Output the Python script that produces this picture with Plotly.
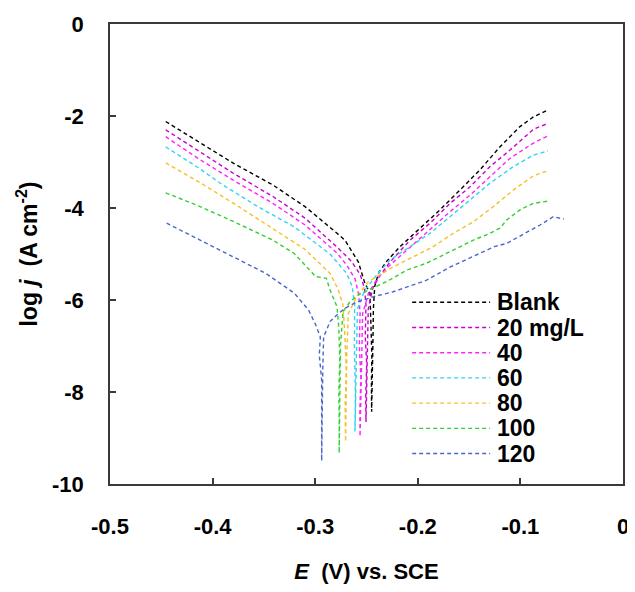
import plotly.graph_objects as go

# ---------------- data ----------------
series_names = ["Blank", "20 mg/L", "40", "60", "80", "100", "120"]
series_colors = ["#000000", "#CC00CC", "#FF22FF", "#33D4EE", "#F5C02A", "#33D033", "#4D66CC"]

e_blank = [-0.4457, -0.4143, -0.3795, -0.3412, -0.3099, -0.2787, -0.2710, -0.2580, -0.2515, -0.2466,
           -0.2455, -0.2448, -0.2452, -0.2450, -0.2438, -0.2433, -0.2420, -0.2380, -0.2300, -0.2173,
           -0.1979, -0.1784, -0.1589, -0.1394, -0.1199, -0.1004, -0.0874, -0.0732]
j_blank = [-2.12, -2.56, -3.03, -3.50, -3.97, -4.55, -4.70, -5.17, -5.64, -5.85,
           -6.50, -7.20, -7.80, -8.43, -7.00, -6.20, -5.70, -5.40, -5.15, -4.84,
           -4.44, -4.04, -3.61, -3.17, -2.67, -2.23, -2.02, -1.87]

e_20 = [-0.4457, -0.4143, -0.3795, -0.3412, -0.3099, -0.2787, -0.2650, -0.2560, -0.2520, -0.2505,
        -0.2512, -0.2498, -0.2508, -0.2505, -0.2490, -0.2483, -0.2440, -0.2380, -0.2280, -0.2076,
        -0.1881, -0.1686, -0.1491, -0.1296, -0.1101, -0.0874, -0.0732]
j_20 = [-2.30, -2.75, -3.25, -3.75, -4.22, -4.85, -5.15, -5.45, -5.75, -6.10,
        -6.80, -7.40, -8.10, -8.65, -7.30, -6.20, -5.75, -5.50, -5.20, -4.70,
        -4.33, -3.90, -3.54, -3.10, -2.74, -2.29, -2.16]

e_40 = [-0.4457, -0.4143, -0.3795, -0.3412, -0.3099, -0.2787, -0.2690, -0.2610, -0.2575, -0.2563,
        -0.2570, -0.2555, -0.2565, -0.2563, -0.2548, -0.2538, -0.2480, -0.2400, -0.2300, -0.2100,
        -0.1881, -0.1686, -0.1491, -0.1296, -0.1101, -0.0874, -0.0732]
j_40 = [-2.45, -2.92, -3.40, -3.90, -4.37, -4.98, -5.25, -5.55, -5.90, -6.30,
        -7.00, -7.70, -8.40, -8.97, -7.40, -6.30, -5.85, -5.55, -5.30, -4.90,
        -4.48, -4.08, -3.72, -3.32, -2.92, -2.59, -2.43]

e_60 = [-0.4457, -0.4143, -0.3900, -0.3552, -0.3204, -0.2856, -0.2694, -0.2640, -0.2615, -0.2618,
        -0.2608, -0.2612, -0.2598, -0.2588, -0.2520, -0.2400, -0.2271, -0.2076, -0.1881, -0.1686,
        -0.1491, -0.1296, -0.1069, -0.0874, -0.0732]
j_60 = [-2.67, -3.12, -3.50, -3.98, -4.41, -5.00, -5.42, -5.70, -6.10, -7.00,
        -8.00, -8.86, -7.20, -6.20, -5.80, -5.45, -5.13, -4.84, -4.55, -4.19,
        -3.83, -3.46, -3.10, -2.85, -2.76]

e_80 = [-0.4457, -0.4143, -0.3795, -0.3412, -0.3099, -0.2856, -0.2780, -0.2730, -0.2710, -0.2698,
        -0.2708, -0.2704, -0.2692, -0.2678, -0.2600, -0.2480, -0.2239, -0.2044, -0.1849, -0.1654,
        -0.1459, -0.1264, -0.1069, -0.0874, -0.0732]
j_80 = [-3.02, -3.42, -3.90, -4.45, -4.90, -5.42, -5.75, -6.10, -6.80, -7.50,
        -8.30, -9.08, -7.20, -6.30, -5.95, -5.60, -5.28, -5.06, -4.84, -4.55,
        -4.30, -3.97, -3.61, -3.30, -3.19]

e_100 = [-0.4457, -0.4143, -0.3830, -0.3412, -0.3204, -0.2995, -0.2891, -0.2856, -0.2787, -0.2770,
         -0.2760, -0.2770, -0.2766, -0.2766, -0.2754, -0.2728, -0.2661, -0.2580, -0.2450, -0.2304,
         -0.2109, -0.1914, -0.1686, -0.1459, -0.1296, -0.1199, -0.1134, -0.1004, -0.0874, -0.0732]
j_100 = [-3.67, -3.95, -4.26, -4.70, -4.99, -5.49, -5.53, -5.78, -6.15, -6.60,
         -7.30, -8.00, -8.60, -9.33, -7.00, -6.25, -6.04, -5.89, -5.75, -5.60,
         -5.35, -5.20, -4.95, -4.70, -4.55, -4.44, -4.26, -4.04, -3.90, -3.85]

e_120 = [-0.4448, -0.4253, -0.4058, -0.3863, -0.3668, -0.3482, -0.3204, -0.3064, -0.2995, -0.2950,
         -0.2960, -0.2937, -0.2937, -0.2937, -0.2926, -0.2918, -0.2888, -0.2856, -0.2791, -0.2710,
         -0.2600, -0.2434, -0.2239, -0.2080, -0.1914, -0.1700, -0.1427, -0.1254, -0.1134, -0.0941,
         -0.0809, -0.0680, -0.0576]
j_120 = [-4.33, -4.55, -4.77, -4.99, -5.20, -5.42, -5.85, -6.22, -6.54, -6.80,
         -7.20, -7.74, -8.60, -9.50, -7.50, -6.80, -6.65, -6.47, -6.33, -6.18,
         -6.05, -5.93, -5.82, -5.70, -5.57, -5.30, -5.02, -4.84, -4.77, -4.53,
         -4.37, -4.19, -4.24]

x_tickvals = [-0.5, -0.4, -0.3, -0.2, -0.1, 0]
x_ticktext = ["-0.5", "-0.4", "-0.3", "-0.2", "-0.1", "0"]
y_tickvals = [0, -2, -4, -6, -8, -10]
y_ticktext = ["0", "-2", "-4", "-6", "-8", "-10"]

all_e = [e_blank, e_20, e_40, e_60, e_80, e_100, e_120]
all_j = [j_blank, j_20, j_40, j_60, j_80, j_100, j_120]

# ---------------- figure ----------------
FONT = "Arial, 'Liberation Sans', sans-serif"
AXIS_COLOR = "#3a3a3a"

fig = go.Figure()
for name, color, ev, jv in zip(series_names, series_colors, all_e, all_j):
    fig.add_trace(go.Scatter(
        x=ev, y=jv, mode="lines", name=name, showlegend=False,
        line=dict(color=color, width=1.4, dash="4px,3px"),
    ))

# legend drawn inside the plot (long dashed samples as in the original)
leg_top = 0.395      # paper y of first row
leg_step = 0.0548    # row spacing in paper units
for i, (name, color) in enumerate(zip(series_names, series_colors)):
    yy = leg_top - i * leg_step
    fig.add_shape(type="line", xref="paper", yref="paper",
                  x0=0.589, x1=0.741, y0=yy, y1=yy,
                  line=dict(color=color, width=1.4, dash="4px,3px"))
    fig.add_annotation(xref="paper", yref="paper", x=0.75, y=yy,
                       text=f"<b>{name}</b>", showarrow=False,
                       xanchor="left", yanchor="middle",
                       font=dict(family=FONT, size=23, color="black"))

fig.update_xaxes(
    range=[-0.5, 0], tickvals=x_tickvals, ticktext=x_ticktext,
    showline=True, mirror=True, linecolor=AXIS_COLOR, linewidth=1.5,
    ticks="inside", ticklen=6, tickwidth=1.5, tickcolor=AXIS_COLOR,
    showgrid=False, zeroline=False, ticklabelstandoff=22, automargin=False,
    tickfont=dict(family=FONT, size=22, color="black", weight="bold"),
    title=dict(text="<b><i>E</i>  (V) vs. SCE</b>", standoff=27,
               font=dict(family=FONT, size=22, color="black")),
)
fig.update_yaxes(
    range=[-10, 0], tickvals=y_tickvals, ticktext=y_ticktext,
    showline=True, mirror=True, linecolor=AXIS_COLOR, linewidth=1.5,
    ticks="inside", ticklen=6, tickwidth=1.5, tickcolor=AXIS_COLOR,
    showgrid=False, zeroline=False, ticklabelstandoff=20, automargin=False,
    tickfont=dict(family=FONT, size=22, color="black", weight="bold"),
    title=dict(text="<b>log <i>j</i>  (A cm<sup>-2</sup>)</b>", standoff=8,
               font=dict(family=FONT, size=23, color="black")),
)
# the page body adds an 8px offset, so the figure is sized/margined to compensate
fig.update_layout(
    width=627, height=576,
    margin=dict(l=102, r=12, t=16, b=100),
    paper_bgcolor="white", plot_bgcolor="white",
    showlegend=False,
)
fig.write_html("out.html")
